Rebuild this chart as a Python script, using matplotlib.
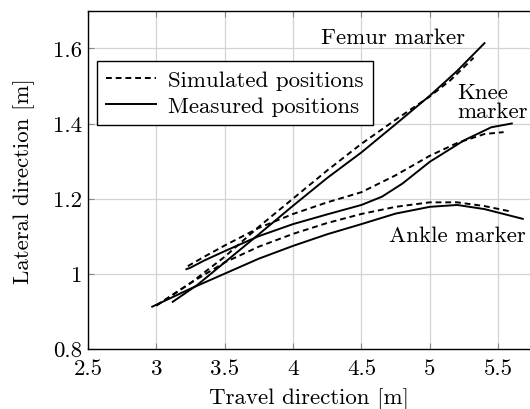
import numpy as np
import matplotlib
matplotlib.use("Agg")
import matplotlib.pyplot as plt

plt.rcParams['font.family'] = ['cmr10', 'DejaVu Serif']
plt.rcParams['mathtext.fontset'] = 'cm'
plt.rcParams['axes.formatter.use_mathtext'] = True

# femur marker
femur_sim_x = [3.00, 3.25, 3.5, 3.75, 4.0, 4.25, 4.5, 4.75, 5.0, 5.15, 5.32]
femur_sim_y = [0.915, 0.975, 1.045, 1.125, 1.200, 1.275, 1.346, 1.410, 1.472, 1.515, 1.575]
femur_meas_x = [3.12, 3.3, 3.5, 3.75, 4.0, 4.25, 4.5, 4.75, 5.0, 5.2, 5.40]
femur_meas_y = [0.925, 0.970, 1.030, 1.105, 1.181, 1.255, 1.323, 1.398, 1.474, 1.540, 1.614]

# knee marker
knee_sim_x = [3.23, 3.35, 3.5, 3.75, 4.0, 4.25, 4.5, 4.75, 5.0, 5.2, 5.4, 5.54]
knee_sim_y = [1.020, 1.045, 1.075, 1.122, 1.159, 1.190, 1.217, 1.262, 1.314, 1.348, 1.372, 1.377]
knee_meas_x = [3.22, 3.25, 3.35, 3.5, 3.75, 4.0, 4.25, 4.5, 4.65, 4.8, 5.0, 5.25, 5.45, 5.60]
knee_meas_y = [1.012, 1.016, 1.035, 1.060, 1.100, 1.132, 1.158, 1.183, 1.205, 1.240, 1.298, 1.355, 1.390, 1.400]

# ankle marker
ankle_sim_x = [3.00, 3.25, 3.5, 3.75, 4.0, 4.25, 4.5, 4.75, 5.0, 5.2, 5.4, 5.60]
ankle_sim_y = [0.915, 0.975, 1.030, 1.072, 1.106, 1.135, 1.159, 1.178, 1.190, 1.190, 1.180, 1.165]
ankle_meas_x = [2.97, 3.25, 3.5, 3.75, 4.0, 4.25, 4.5, 4.75, 5.0, 5.2, 5.4, 5.68]
ankle_meas_y = [0.912, 0.960, 1.000, 1.040, 1.074, 1.105, 1.132, 1.160, 1.178, 1.183, 1.172, 1.146]

xticks = [2.5, 3, 3.5, 4, 4.5, 5, 5.5]
xtick_labels = ['2.5', '3', '3.5', '4', '4.5', '5', '5.5']
yticks = [0.8, 1.0, 1.2, 1.4, 1.6]
ytick_labels = ['0.8', '1', '1.2', '1.4', '1.6']

fig = plt.figure(figsize=(5.3, 4.1), dpi=100)
ax = fig.add_axes([0.166, 0.147, 0.834, 0.824])

dash = (0, (3, 2))
lw = 1.4
ax.plot(femur_sim_x, femur_sim_y, color='black', lw=lw, linestyle=dash, label='Simulated positions')
ax.plot(femur_meas_x, femur_meas_y, color='black', lw=lw, label='Measured positions')
ax.plot(knee_sim_x, knee_sim_y, color='black', lw=lw, linestyle=dash)
ax.plot(knee_meas_x, knee_meas_y, color='black', lw=lw)
ax.plot(ankle_sim_x, ankle_sim_y, color='black', lw=lw, linestyle=dash)
ax.plot(ankle_meas_x, ankle_meas_y, color='black', lw=lw)

ax.set_xlim(2.5, 5.733)
ax.set_ylim(0.8, 1.7)
ax.set_xticks(xticks)
ax.set_xticklabels(xtick_labels)
ax.set_yticks(yticks)
ax.set_yticklabels(ytick_labels)
ax.tick_params(direction='in', length=4, color='#888888', labelsize=16.5, pad=4,
               top=True, right=False)
ax.tick_params(axis='x', pad=7)
ax.grid(True, color='#d3d3d3', lw=0.9)
ax.set_axisbelow(True)
ax.spines['right'].set_visible(False)
for s in ['left', 'bottom', 'top']:
    ax.spines[s].set_linewidth(1.0)

ax.set_xlabel('Travel direction [m]', fontsize=16.5, labelpad=7)
ax.set_ylabel('Lateral direction [m]', fontsize=16.5, labelpad=13)

ax.text(4.73, 1.631, 'Femur marker', fontsize=16.5, ha='center', va='center')
ax.text(5.20, 1.458, 'Knee\nmarker', fontsize=16.5, ha='left', va='center', linespacing=0.95)
ax.text(4.70, 1.101, 'Ankle marker', fontsize=16.5, ha='left', va='center')

leg = ax.legend(loc='upper left', bbox_to_anchor=(0.02, 0.852), fontsize=16.5,
                frameon=True, fancybox=False, edgecolor='black', framealpha=1,
                handlelength=2.2, handletextpad=0.5, borderpad=0.4, labelspacing=0.25,
                borderaxespad=0)
leg.get_frame().set_linewidth(1.0)

fig.savefig('out.png', dpi=100)
